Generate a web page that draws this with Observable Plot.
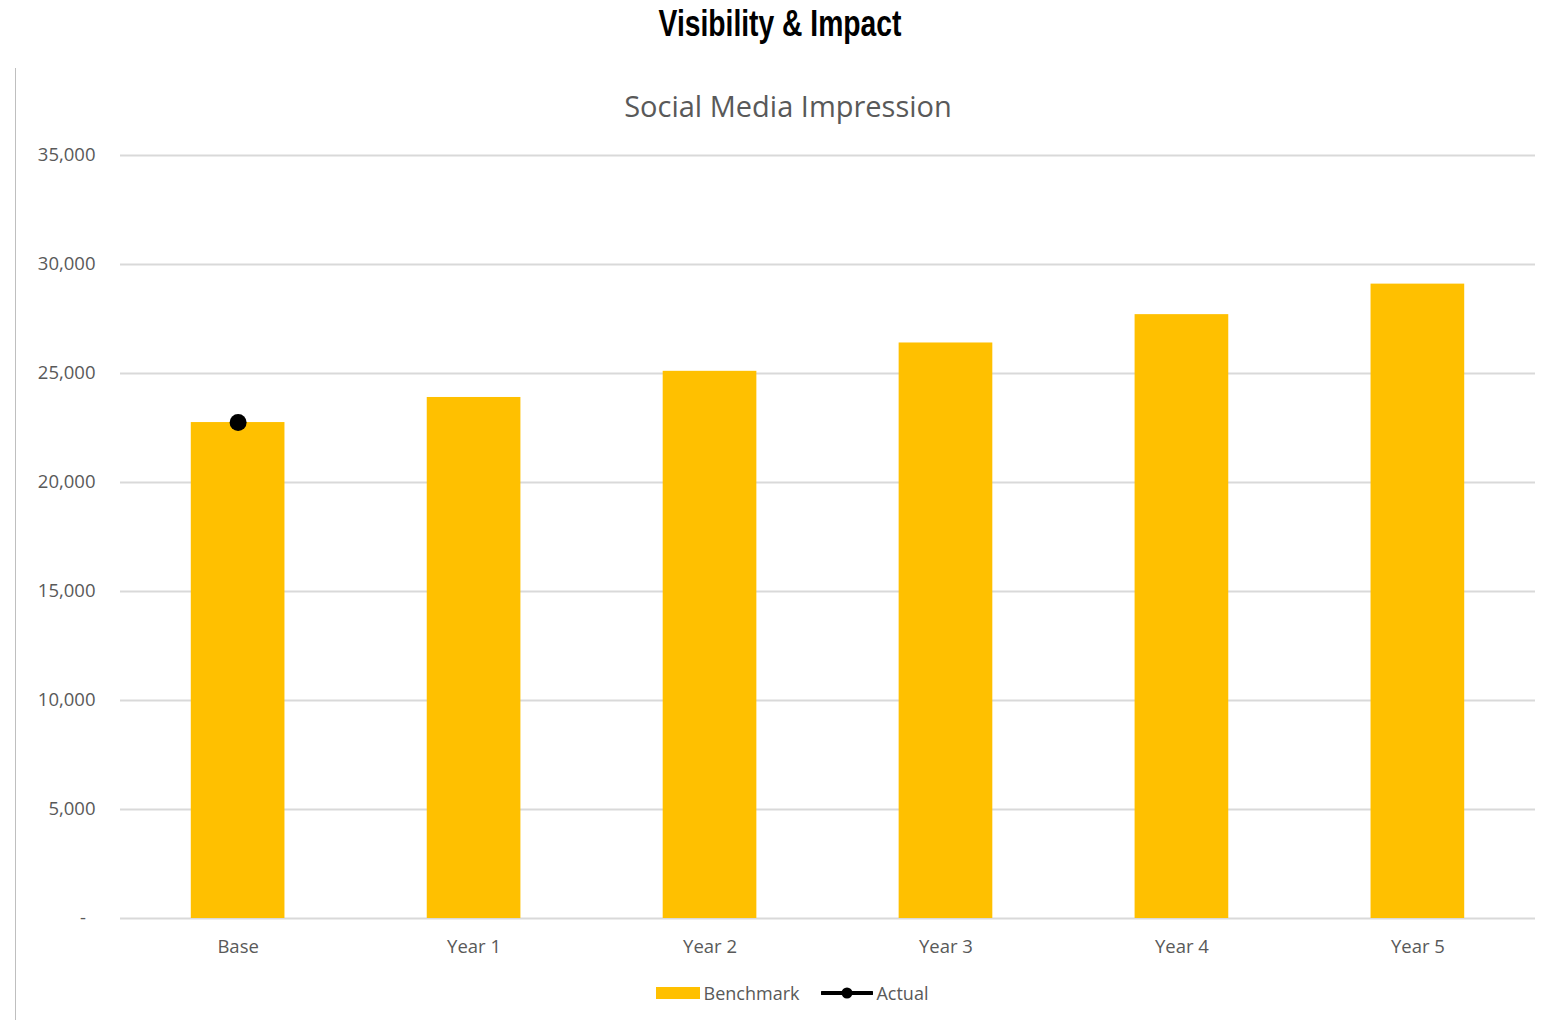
<!DOCTYPE html>
<html>
<head>
<meta charset="utf-8">
<script src="https://cdn.jsdelivr.net/npm/d3@7"></script>
<script src="https://cdn.jsdelivr.net/npm/@observablehq/plot@0.6"></script>
<style>
  html, body { margin: 0; padding: 0; background: #fff; }
  #page { position: relative; width: 1547px; height: 1020px; overflow: hidden; }
  #title { position: absolute; left: 0; width: 1560px; top: 2px; text-align: center;
    font-family: "Liberation Sans", Arial, sans-serif; font-weight: bold;
    font-size: 36px; line-height: 44px; color: #000; transform: scaleX(0.785); transform-origin: 780px 0; }
  #frame { position: absolute; left: 15px; top: 68px; width: 0; height: 952px; border-left: 1.5px solid #bfbfbf; }
  #subtitle { position: absolute; left: 0; width: 1576px; top: 86px; text-align: center;
    font-family: "Open Sans", sans-serif; font-size: 29px; line-height: 40px; color: #595959; }
  #chart { position: absolute; left: 0; top: 130px; }
  #legend { position: absolute; left: 0; width: 1547px; top: 980px; display: flex; justify-content: center;
    font-family: "Open Sans", sans-serif; font-size: 18px; color: #595959; line-height: 26px; padding-left: 36px; box-sizing: border-box; }
  .item { display: flex; align-items: center; margin: 0 11px; }
  .item svg { margin-right: 3px; }
</style>
</head>
<body>
<div id="page">
  <div id="title">Visibility &amp; Impact</div>
  <div id="frame"></div>
  <div id="subtitle">Social Media Impression</div>
  <div id="chart"></div>
  <div id="legend">
    <div class="item"><svg width="46" height="14"><rect x="1" y="1" width="44" height="12" fill="#FFC000"></rect></svg>Benchmark</div>
    <div class="item"><svg width="52" height="14"><line x1="1" x2="51" y1="7" y2="7" stroke="#000" stroke-width="4" stroke-linecap="round"></line><circle cx="26" cy="7" r="5.5" fill="#000"></circle></svg>Actual</div>
  </div>
</div>
<script>
const categories = ["Base", "Year 1", "Year 2", "Year 3", "Year 4", "Year 5"];
const benchmark = [22750, 23900, 25100, 26400, 27700, 29100];
const actualCategories = ["Base"];
const actual = [22750];
const yTicks = [0, 5000, 10000, 15000, 20000, 25000, 30000, 35000];

const barData = categories.map((c, i) => ({category: c, value: benchmark[i]}));
const actualData = actualCategories.map((c, i) => ({category: c, value: actual[i]}));

const fmt = d => d === 0 ? "-\u00a0\u00a0" : d3.format(",")(d);

const chart = Plot.plot({
  width: 1547,
  height: 840,
  marginTop: 25,
  marginBottom: 52,
  marginLeft: 120,
  marginRight: 12,
  style: { fontFamily: "Open Sans, sans-serif", fontSize: "18.5px", color: "#595959", background: "transparent" },
  x: { domain: categories, paddingInner: 0.603, paddingOuter: 0.3, round: false, label: null },
  y: { domain: [0, 35000], label: null },
  marks: [
    Plot.ruleY(yTicks, { stroke: "#d9d9d9", strokeWidth: 2 }),
    Plot.barY(barData, { x: "category", y: "value", fill: "#FFC000" }),
    Plot.dot(actualData, { x: "category", y: "value", r: 8.5, fill: "#000", stroke: "none" }),
    Plot.axisY(yTicks, { tickSize: 0, tickPadding: 25, tickFormat: fmt, fill: "#595959" }),
    Plot.axisX({ tickSize: 0, tickPadding: 21, fill: "#595959" })
  ]
});
document.getElementById("chart").appendChild(chart);
</script>
</body>
</html>
